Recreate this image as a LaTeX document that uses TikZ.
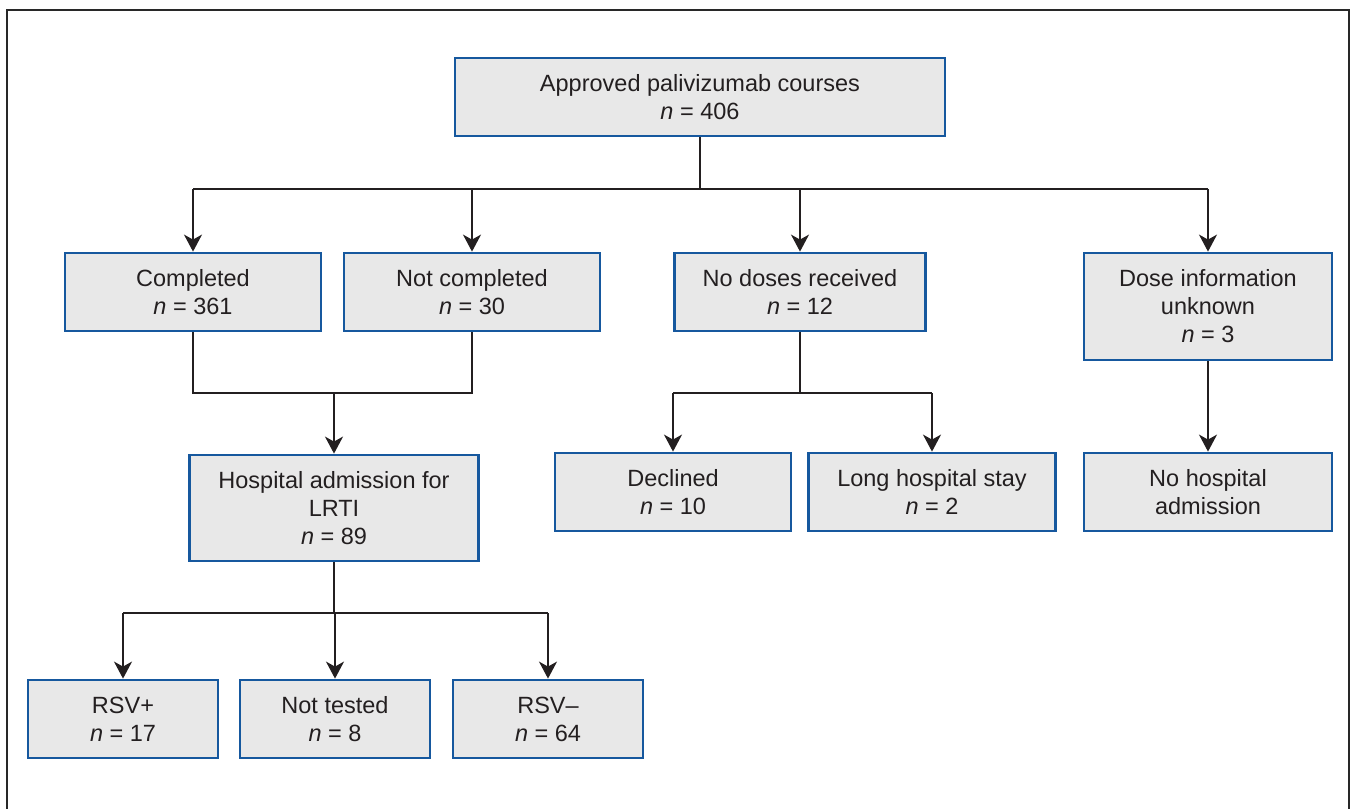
\documentclass[tikz,border=0pt]{standalone}
\usepackage{fontspec}
\setmainfont{Liberation Sans}
\usetikzlibrary{arrows.meta}
\definecolor{boxblue}{RGB}{22,88,158}
\definecolor{boxfill}{RGB}{232,232,232}
\definecolor{framegray}{RGB}{40,40,40}
\definecolor{txt}{RGB}{35,31,32}
\tikzset{
  fbox/.style={draw=boxblue, line width=2.8pt, fill=boxfill, align=center, inner sep=0pt,
    font=\fontsize{23.5}{28}\selectfont, text=txt},
  conn/.style={line width=2pt, draw=txt},
  arr/.style={conn, -{Stealth[length=17pt,width=18pt,inset=5pt]}},
}
\newcommand{\nn}{\textit{n}}
\begin{document}
\begin{tikzpicture}[x=1pt,y=-1pt]
\useasboundingbox (0,0) rectangle (1353,809);
\draw[framegray, line width=2pt] (7,830) -- (7,10) -- (1349,10) -- (1349,830);
% boxes
\node[fbox, minimum width=490pt, minimum height=78pt] (top) at (700,97) {Approved palivizumab courses\\\nn{} = 406};
\node[fbox, minimum width=256pt, minimum height=78pt] (comp) at (193,292) {Completed\\\nn{} = 361};
\node[fbox, minimum width=256pt, minimum height=78pt] (ncomp) at (472,292) {Not completed\\\nn{} = 30};
\node[fbox, minimum width=251pt, minimum height=78pt] (nodose) at (800,292) {No doses received\\\nn{} = 12};
\node[fbox, minimum width=248pt, minimum height=107pt] (unk) at (1208,306.5) {Dose information\\unknown\\\nn{} = 3};
\node[fbox, minimum width=289pt, minimum height=106pt] (hosp) at (334,508) {Hospital admission for\\LRTI\\\nn{} = 89};
\node[fbox, minimum width=236pt, minimum height=78pt] (decl) at (673,492) {Declined\\\nn{} = 10};
\node[fbox, minimum width=247pt, minimum height=78pt] (long) at (932,492) {Long hospital stay\\\nn{} = 2};
\node[fbox, minimum width=248pt, minimum height=78pt] (nohosp) at (1208,492) {No hospital\\admission};
\node[fbox, minimum width=190pt, minimum height=78pt] (rsvp) at (123,719) {RSV+\\\nn{} = 17};
\node[fbox, minimum width=190pt, minimum height=78pt] (nt) at (335,719) {Not tested\\\nn{} = 8};
\node[fbox, minimum width=190pt, minimum height=78pt] (rsvm) at (548,719) {RSV–\\\nn{} = 64};
% junctions
\coordinate (j1) at (700,189);
\coordinate (j2) at (334,393);
\coordinate (j3) at (800,393);
\coordinate (j4) at (334,613);
% top split
\draw[conn] (top.south) -- (j1);
\draw[conn] (comp.north |- j1) -- (unk.north |- j1);
\draw[arr] (comp.north |- j1) -- (comp.north);
\draw[arr] (ncomp.north |- j1) -- (ncomp.north);
\draw[arr] (nodose.north |- j1) -- (nodose.north);
\draw[arr] (unk.north |- j1) -- (unk.north);
% merge to hospital
\draw[conn] (comp.south) -- (comp.south |- j2) -- (ncomp.south |- j2) -- (ncomp.south);
\draw[arr] (j2) -- (hosp.north);
% no doses split
\draw[conn] (nodose.south) -- (j3);
\draw[conn] (decl.north |- j3) -- (long.north |- j3);
\draw[arr] (decl.north |- j3) -- (decl.north);
\draw[arr] (long.north |- j3) -- (long.north);
% unknown
\draw[arr] (unk.south) -- (nohosp.north);
% hospital split
\draw[conn] (hosp.south) -- (j4);
\draw[conn] (rsvp.north |- j4) -- (rsvm.north |- j4);
\draw[arr] (rsvp.north |- j4) -- (rsvp.north);
\draw[arr] (nt.north |- j4) -- (nt.north);
\draw[arr] (rsvm.north |- j4) -- (rsvm.north);
\end{tikzpicture}
\end{document}
